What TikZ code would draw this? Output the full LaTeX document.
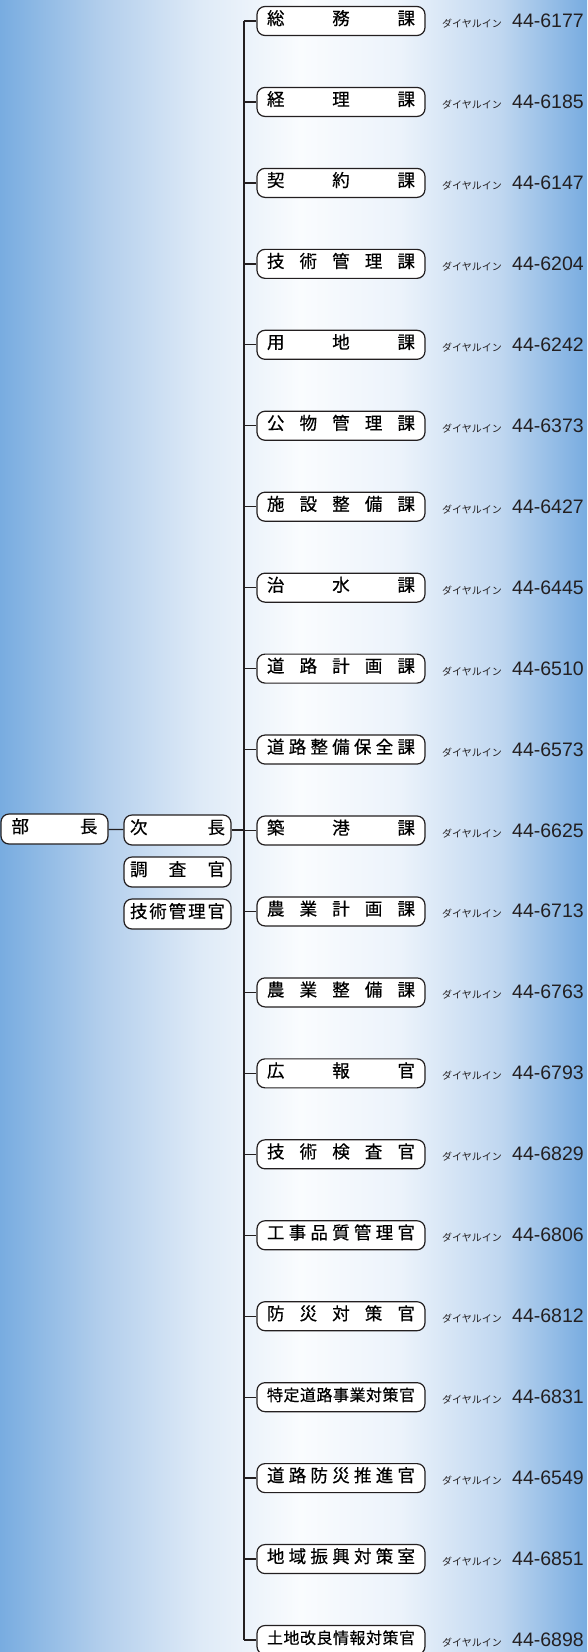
\documentclass[tikz,border=0pt]{standalone}
\usepackage{fontspec}
\setmainfont{Liberation Sans}
\newfontfamily\jp[FakeBold=0.5]{Noto Sans CJK JP}
\newfontfamily\jpsmall{Noto Sans CJK JP}
\definecolor{edgeblue}{RGB}{120,172,224}
\definecolor{cA}{RGB}{178,206,236}
\definecolor{cB}{RGB}{222,234,247}
\definecolor{cC}{RGB}{250,252,254}
\definecolor{cD}{RGB}{236,243,251}
\definecolor{cE}{RGB}{192,215,240}
\definecolor{linec}{RGB}{35,31,32}
\pgfdeclarehorizontalshading{bgshade}{100bp}{color(0bp)=(edgeblue); color(25bp)=(edgeblue); color(33.52bp)=(cA); color(42.04bp)=(cB); color(50.55bp)=(cC); color(59.07bp)=(cD); color(67.59bp)=(cE); color(75bp)=(edgeblue); color(100bp)=(edgeblue)}
\tikzset{
  rbox/.style={draw=linec, fill=white, rounded corners=8pt, line width=1.2pt,
    minimum width=168pt, minimum height=29pt, inner sep=0pt,
    text height=0.83em, text depth=0.07em,
    font=\jp\fontsize{17.5}{17.5}\selectfont},
  lbox/.style={rbox, minimum width=107pt, minimum height=30pt},
  conn/.style={draw=linec, line width=1.3pt},
  dial/.style={anchor=base west, inner sep=0pt, font=\jpsmall\fontsize{10}{10}\selectfont, text=linec},
  numtxt/.style={anchor=base west, inner sep=0pt, font=\fontsize{19.5}{19.5}\selectfont, text=linec}
}
\newcommand\ninech{\fontsize{16}{16}\selectfont}
\newcommand\gap{\hfill}
\begin{document}
\begin{tikzpicture}[x=1pt,y=-1pt]
\useasboundingbox (0,0) rectangle (587,1652);
\shade[shading=bgshade] (0,0) rectangle (587,1652);
\foreach \i/\lab/\num in {
  1/{総\gap 務\gap 課}/6177,
  2/{経\gap 理\gap 課}/6185,
  3/{契\gap 約\gap 課}/6147,
  4/{技\gap 術\gap 管\gap 理\gap 課}/6204,
  5/{用\gap 地\gap 課}/6242,
  6/{公\gap 物\gap 管\gap 理\gap 課}/6373,
  7/{施\gap 設\gap 整\gap 備\gap 課}/6427,
  8/{治\gap 水\gap 課}/6445,
  9/{道\gap 路\gap 計\gap 画\gap 課}/6510,
  10/{道\gap 路\gap 整\gap 備\gap 保\gap 全\gap 課}/6573,
  11/{築\gap 港\gap 課}/6625,
  12/{農\gap 業\gap 計\gap 画\gap 課}/6713,
  13/{農\gap 業\gap 整\gap 備\gap 課}/6763,
  14/{広\gap 報\gap 官}/6793,
  15/{技\gap 術\gap 検\gap 査\gap 官}/6829,
  16/{工\gap 事\gap 品\gap 質\gap 管\gap 理\gap 官}/6806,
  17/{防\gap 災\gap 対\gap 策\gap 官}/6812,
  18/{\ninech 特\gap 定\gap 道\gap 路\gap 事\gap 業\gap 対\gap 策\gap 官}/6831,
  19/{道\gap 路\gap 防\gap 災\gap 推\gap 進\gap 官}/6549,
  20/{地\gap 域\gap 振\gap 興\gap 対\gap 策\gap 室}/6851,
  21/{\ninech 土\gap 地\gap 改\gap 良\gap 情\gap 報\gap 対\gap 策\gap 官}/6898}{
  \pgfmathsetmacro\yy{21+(\i-1)*80.95}
  \node[rbox] (b\i) at (341,\yy) {\hbox to 148pt{\lab}};
  \coordinate (t\i) at (244,\yy);
  \draw[conn] (t\i) -- (b\i.west);
  \node[dial] (d\i) at (442,\yy+6.5) {ダイヤルイン};
  \node[numtxt] (n\i) at (512,\yy+6.5) {44-\num};
}
\draw[conn] (t1) -- (t21);
\node[lbox] (bucho) at (54.5,829) {\hbox to 86pt{部\gap 長}};
\node[lbox] (jicho) at (177.5,830) {\hbox to 95pt{次\gap 長}};
\node[lbox] (chosa) at (177.5,872) {\hbox to 95pt{調\gap 査\gap 官}};
\node[lbox] (gijutsu) at (177.5,914) {\hbox to 95pt{技\gap 術\gap 管\gap 理\gap 官}};
\draw[conn] (bucho) -- (jicho);
\draw[conn] (jicho.east) -- (jicho.east -| t11);
\end{tikzpicture}
\end{document}
